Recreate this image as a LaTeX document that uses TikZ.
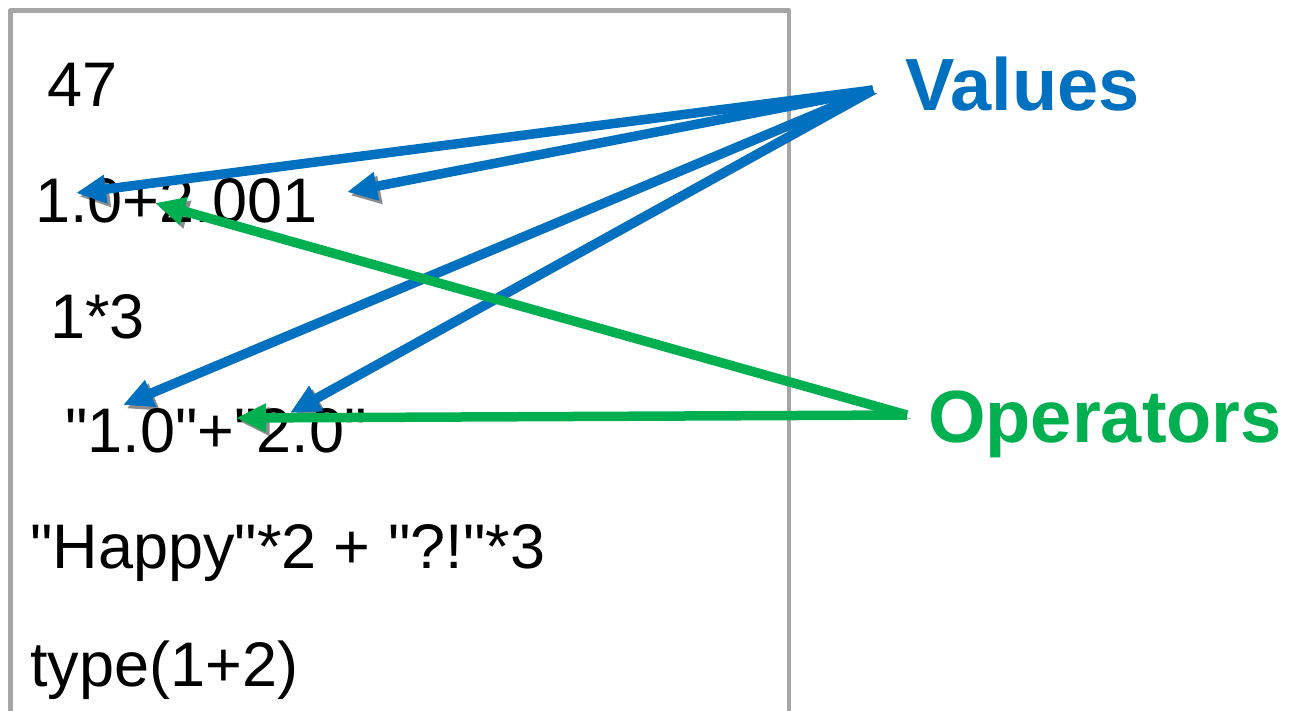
\documentclass[tikz,border=0pt]{standalone}
\usepackage{fontspec}
\setmainfont{Liberation Sans}[Ligatures=TeXOff]
\usetikzlibrary{arrows.meta}
\definecolor{valblue}{HTML}{0070C0}
\definecolor{opgreen}{HTML}{00B050}
\definecolor{boxgray}{HTML}{A6A6A6}

\begin{document}
\begin{tikzpicture}[x=1pt, y=-1pt, line join=round,
  expr/.style={anchor=base west, inner sep=0pt, font=\fontsize{63}{63}\selectfont},
  tag/.style={anchor=base west, inner sep=0pt, font=\fontsize{74}{74}\selectfont\bfseries},
  shade/.style={preaction={draw=black, opacity=0.45, transform canvas={shift={(3.5pt,-3.5pt)}}}},
  ptr/.style={line width=9.5pt, shade, -{Triangle[length=30pt,width=27pt]}}
]
  \useasboundingbox (0,0) rectangle (1291,710);
  \draw[boxgray, line width=4.5pt] (10.5,740) -- (10.5,10.5) -- (789,10.5) -- (789,740);

  \node[expr] (e1) at (47,106) {47};
  \node[expr] (e2) at (35,222) {1.0+2.001};
  \node[expr] (e3) at (50,338) {1*3};
  \node[expr] (e4) at (65,452) {"1.0"+"2.0"};
  \node[expr] (e5) at (30,568) {"Happy"*2 + "?!"*3};
  \node[expr] (e6) at (30,686) {type(1+2)};

  \node[tag, valblue] (val) at (905,110) {Values};
  \node[tag, opgreen] (op) at (928,442) {Operators};

  \coordinate (vfrom) at (873,90);
  \coordinate (ofrom) at (907,415);
  \coordinate (v1) at (76,193);
  \coordinate (v2) at (347,192);
  \coordinate (v3) at (123,405);
  \coordinate (v4) at (290,413);
  \coordinate (o1) at (155,203);
  \coordinate (o2) at (236,418);

  \draw[ptr, valblue] (vfrom) -- (v1);
  \draw[ptr, valblue] (vfrom) -- (v2);
  \draw[ptr, valblue] (vfrom) -- (v3);
  \draw[ptr, valblue] (vfrom) -- (v4);
  \draw[ptr, opgreen] (ofrom) -- (o1);
  \draw[ptr, opgreen] (ofrom) -- (o2);
\end{tikzpicture}
\end{document}
